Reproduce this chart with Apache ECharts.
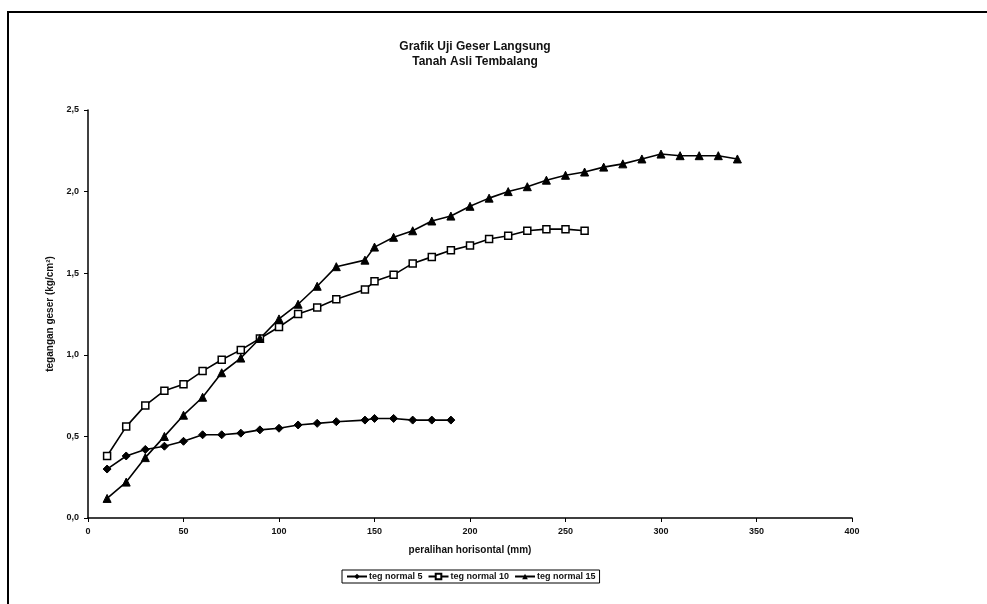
<!DOCTYPE html>
<html>
<head>
<meta charset="utf-8">
<script src="https://cdn.jsdelivr.net/npm/echarts@6/dist/echarts.min.js"></script>
<style>
html,body{margin:0;padding:0;background:#fff;}
#chart{width:987px;height:604px;}
</style>
</head>
<body>
<div id="chart"></div>
<script>
// peralihan horisontal (mm)
var x5 = [10,20,30,40,50,60,70,80,90,100,110,120,130,145,150,160,170,180,190];
var teg5 = [0.30,0.38,0.42,0.44,0.47,0.51,0.51,0.52,0.54,0.55,0.57,0.58,0.59,0.60,0.61,0.61,0.60,0.60,0.60];

var x10 = [10,20,30,40,50,60,70,80,90,100,110,120,130,145,150,160,170,180,190,200,210,220,230,240,250,260];
var teg10 = [0.38,0.56,0.69,0.78,0.82,0.90,0.97,1.03,1.10,1.17,1.25,1.29,1.34,1.40,1.45,1.49,1.56,1.60,1.64,1.67,1.71,1.73,1.76,1.77,1.77,1.76];

var x15 = [10,20,30,40,50,60,70,80,90,100,110,120,130,145,150,160,170,180,190,200,210,220,230,240,250,260,270,280,290,300,310,320,330,340];
var teg15 = [0.12,0.22,0.37,0.50,0.63,0.74,0.89,0.98,1.10,1.22,1.31,1.42,1.54,1.58,1.66,1.72,1.76,1.82,1.85,1.91,1.96,2.00,2.03,2.07,2.10,2.12,2.15,2.17,2.20,2.23,2.22,2.22,2.22,2.20];

var seriesNames = ['teg normal 5','teg normal 10','teg normal 15'];

function pairs(xs, ys){
	var out = [];
	for(var i=0;i<xs.length;i++){
		out.push([xs[i], ys[i]]);
	}
	return out;
}

var fontFam = '"Liberation Sans", Arial, sans-serif';

var chart = echarts.init(document.getElementById('chart'));

var option = {
	backgroundColor: '#fff',
	animation: false,
	title: {
		text: 'Grafik Uji Geser Langsung\nTanah Asli Tembalang',
		left: 470,
		textAlign: 'center',
		top: 34,
		textStyle: {
			fontFamily: fontFam,
			fontSize: 12,
			fontWeight: 'bold',
			color: '#111',
			lineHeight: 15
		}
	},
	graphic: [
		{
			type: 'rect',
			shape: {x: 8, y: 12, width: 1000, height: 700},
			style: {fill: 'none', stroke: '#000', lineWidth: 2},
			silent: true
		}
	],
	legend: {
		data: seriesNames,
		left: 342,
		top: 570,
		borderColor: '#000',
		borderWidth: 1,
		padding: [2, 4],
		itemGap: 5,
		itemWidth: 20,
		itemHeight: 7,
		textStyle: {
			fontFamily: fontFam,
			fontSize: 9,
			fontWeight: 'bold',
			color: '#111',
			padding: [0, 0, 0, -3]
		}
	},
	grid: {
		left: 88,
		right: 135,
		top: 110,
		bottom: 86
	},
	xAxis: {
		type: 'value',
		min: 0,
		max: 400,
		interval: 50,
		name: 'peralihan horisontal (mm)',
		nameLocation: 'middle',
		nameGap: 27,
		nameTextStyle: {fontFamily: fontFam, fontSize: 10, fontWeight: 'bold', color: '#111'},
		axisLine: {lineStyle: {color: '#000', width: 1.5}},
		axisTick: {show: true, length: 4, lineStyle: {color: '#000'}},
		axisLabel: {fontFamily: fontFam, fontSize: 9, fontWeight: 'bold', color: '#111', margin: 9},
		splitLine: {show: false}
	},
	yAxis: {
		type: 'value',
		min: 0,
		max: 2.5,
		interval: 0.5,
		name: 'tegangan geser (kg/cm²)',
		nameLocation: 'middle',
		nameGap: 29,
		nameTextStyle: {fontFamily: fontFam, fontSize: 10, fontWeight: 'bold', color: '#111'},
		axisLine: {show: true, lineStyle: {color: '#000', width: 1.5}},
		axisTick: {show: true, length: 4, lineStyle: {color: '#000'}},
		axisLabel: {
			fontFamily: fontFam, fontSize: 9, fontWeight: 'bold', color: '#111', margin: 9,
			formatter: function(v){ return v.toFixed(1).replace('.', ','); }
		},
		splitLine: {show: false}
	},
	series: [
		{
			name: seriesNames[0],
			type: 'line',
			data: pairs(x5, teg5),
			symbol: 'diamond',
			symbolSize: 8,
			lineStyle: {color: '#000', width: 1.6},
			itemStyle: {color: '#000', borderColor: '#000'}
		},
		{
			name: seriesNames[1],
			type: 'line',
			data: pairs(x10, teg10),
			symbol: 'rect',
			symbolSize: 7,
			lineStyle: {color: '#000', width: 1.6},
			itemStyle: {color: '#fff', borderColor: '#000', borderWidth: 1.5}
		},
		{
			name: seriesNames[2],
			type: 'line',
			data: pairs(x15, teg15),
			symbol: 'triangle',
			symbolSize: 8,
			lineStyle: {color: '#000', width: 1.6},
			itemStyle: {color: '#000', borderColor: '#000'}
		}
	]
};

chart.setOption(option);
</script>
</body>
</html>
